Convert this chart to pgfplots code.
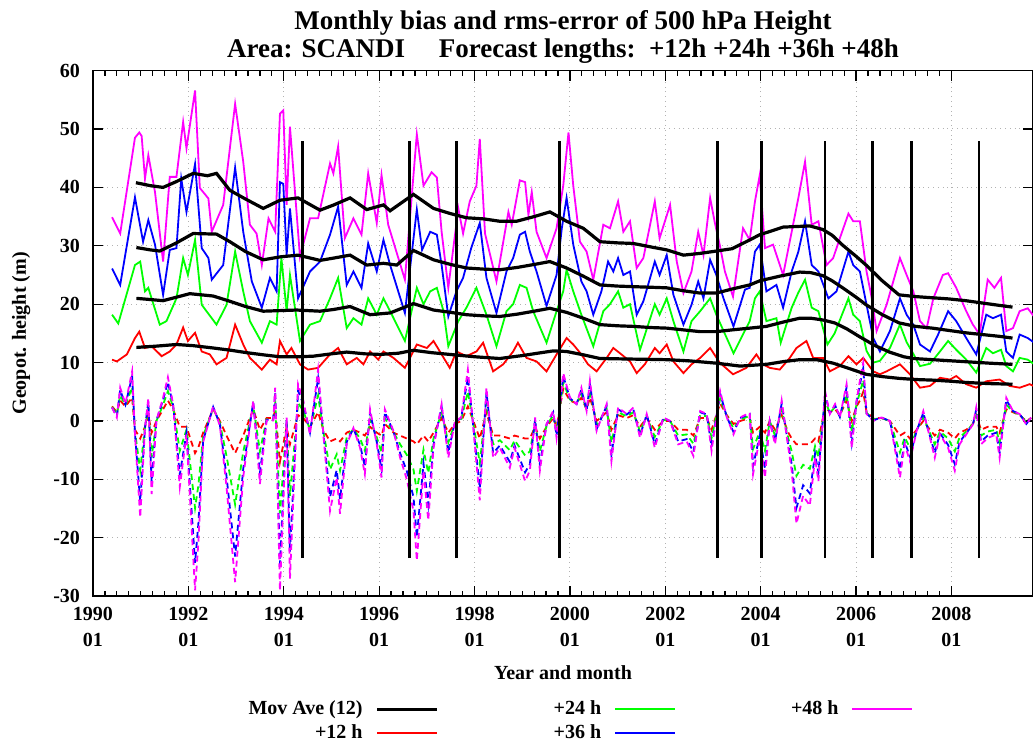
\documentclass[border=0pt]{standalone}
\usepackage{fontspec}
\setmainfont{Liberation Serif}
\usepackage{pgfplots}
\usepackage{pgfplotstable}
\pgfplotsset{compat=1.18}
\definecolor{cR}{RGB}{255,0,0}
\definecolor{cG}{RGB}{0,255,0}
\definecolor{cB}{RGB}{0,0,255}
\definecolor{cM}{RGB}{255,0,255}

% t = years since 1990-01
\pgfplotstableread{
t v
0.90 40.8
1.20 40.3
1.47 40.0
1.75 41.0
2.10 42.4
2.40 42.0
2.59 42.4
2.87 39.5
3.20 38.0
3.57 36.4
3.92 37.8
4.30 38.2
4.76 36.1
5.05 37.0
5.39 38.2
5.74 36.2
6.09 37.0
6.23 36.0
6.72 38.8
7.14 36.4
7.50 35.5
7.83 34.8
8.20 34.6
8.53 34.2
8.88 34.2
9.25 35.0
9.58 35.8
9.93 34.2
10.28 33.0
10.63 30.7
11.00 30.5
11.33 30.4
11.70 29.8
12.03 29.3
12.38 28.4
12.73 28.7
13.07 29.1
13.40 29.5
13.77 31.0
13.98 31.9
14.25 32.6
14.47 33.2
14.75 33.3
15.03 33.4
15.30 32.8
15.50 31.8
15.72 30.1
16.00 28.2
16.21 26.7
16.55 24.0
16.90 21.6
17.25 21.3
17.60 21.1
17.95 20.9
18.30 20.6
18.65 20.2
19.00 19.8
19.28 19.5
}\maA

\pgfplotstableread{
t v
0.91 29.7
1.20 29.3
1.40 29.1
1.75 30.5
2.10 32.1
2.59 32.0
2.87 30.7
3.20 29.0
3.57 27.6
3.92 28.1
4.30 28.4
4.76 27.5
5.05 27.9
5.39 28.4
5.74 26.7
6.09 27.0
6.37 26.7
6.72 29.2
7.14 27.6
7.50 26.8
7.83 26.2
8.20 26.0
8.53 25.9
8.90 26.3
9.25 26.8
9.58 27.3
9.93 26.2
10.28 24.8
10.63 23.3
11.00 23.1
11.33 23.0
11.70 22.9
12.03 22.8
12.38 22.3
12.73 21.9
13.07 21.9
13.40 22.6
13.77 23.3
13.98 24.0
14.40 24.8
14.82 25.5
15.05 25.4
15.30 24.9
15.50 24.0
15.72 22.8
16.00 21.2
16.21 19.9
16.55 18.2
16.90 16.8
17.25 16.2
17.60 15.9
17.95 15.5
18.30 15.1
18.65 14.8
19.00 14.5
19.28 14.2
}\maB

\pgfplotstableread{
t v
0.91 21.0
1.20 20.8
1.47 20.6
1.75 21.2
2.03 21.8
2.52 21.4
2.87 20.5
3.20 19.6
3.57 18.8
4.27 19.0
4.76 18.8
5.05 19.1
5.39 19.6
5.81 18.2
6.23 18.5
6.72 20.1
7.14 19.0
7.50 18.6
7.83 18.2
8.20 18.0
8.53 17.9
8.90 18.3
9.25 18.8
9.58 19.3
9.93 18.6
10.28 17.6
10.63 16.5
11.00 16.3
11.33 16.2
11.70 16.0
12.03 15.9
12.38 15.6
12.73 15.3
13.07 15.3
13.40 15.6
13.77 15.9
14.12 16.2
14.50 17.0
14.82 17.6
15.05 17.6
15.30 17.3
15.55 16.8
15.80 15.8
16.08 14.4
16.40 12.9
16.70 11.8
17.00 11.0
17.20 10.7
17.60 10.5
18.00 10.3
18.40 10.1
18.80 9.9
19.28 9.7
}\maC

\pgfplotstableread{
t v
0.91 12.6
1.30 12.8
1.75 13.1
2.10 12.9
2.52 12.5
2.90 12.1
3.22 11.7
3.60 11.3
3.92 11.0
4.30 11.0
4.62 11.1
5.00 11.5
5.32 11.8
5.70 11.5
6.02 11.4
6.40 11.6
6.72 12.1
7.10 11.7
7.48 11.4
8.00 11.0
8.53 10.7
9.00 11.2
9.40 11.7
9.65 12.0
9.93 11.9
10.30 11.3
10.63 10.7
11.30 10.6
12.03 10.5
12.50 10.3
13.07 9.9
13.57 9.4
14.12 9.7
14.50 10.2
14.82 10.5
15.17 10.5
15.52 9.9
15.85 9.0
16.21 8.0
16.55 7.6
16.90 7.3
17.25 7.1
17.60 7.0
18.00 6.8
18.30 6.6
18.80 6.4
19.28 6.3
}\maD

\pgfplotstableread{
t v
0.40 34.9
0.57 32.1
0.88 48.5
0.97 49.4
1.02 48.8
1.09 41.5
1.16 45.5
1.30 39.2
1.47 27.3
1.61 41.8
1.75 41.8
1.89 51.2
1.96 46.7
2.14 56.6
2.24 39.9
2.42 38.1
2.49 32.4
2.73 37.0
2.98 54.3
3.15 44.4
3.29 33.6
3.43 32.1
3.54 26.7
3.68 34.7
3.82 32.4
3.92 52.6
3.99 53.2
4.06 37.0
4.13 50.4
4.34 28.1
4.55 34.7
4.72 34.7
4.97 44.1
5.04 42.4
5.14 47.0
5.28 31.3
5.46 34.7
5.63 31.9
5.77 42.4
5.95 33.9
6.05 42.1
6.19 33.6
6.54 24.2
6.79 49.1
6.93 40.3
7.10 42.6
7.21 41.7
7.31 32.4
7.45 22.8
7.66 36.4
7.76 32.1
7.90 37.6
8.04 40.3
8.11 48.3
8.22 32.1
8.46 23.9
8.71 35.8
8.78 33.6
8.95 41.2
9.06 40.9
9.13 35.3
9.20 39.2
9.30 32.4
9.51 27.9
9.72 33.0
9.86 40.3
9.97 49.4
10.07 40.3
10.21 30.7
10.35 29.0
10.49 24.2
10.70 33.6
10.84 33.0
11.01 37.6
11.12 32.4
11.26 34.2
11.40 26.2
11.54 27.9
11.78 37.6
11.88 31.3
12.10 37.0
12.24 27.3
12.38 21.9
12.55 25.6
12.69 32.4
12.80 28.4
12.94 38.2
13.04 33.9
13.14 30.2
13.25 25.6
13.42 21.3
13.63 33.0
13.77 31.0
13.88 37.6
13.98 42.1
14.09 29.6
14.26 30.2
14.47 25.0
14.65 32.4
14.79 38.2
14.93 44.4
15.07 33.6
15.21 34.2
15.38 26.7
15.52 27.9
15.66 31.3
15.84 35.5
15.94 34.2
16.08 34.2
16.22 25.6
16.33 21.0
16.43 15.4
16.64 19.9
16.92 27.9
17.06 25.0
17.20 22.2
17.34 17.1
17.48 15.9
17.62 21.0
17.82 25.0
17.93 25.3
18.10 22.8
18.31 18.8
18.45 16.5
18.59 14.8
18.76 24.2
18.90 22.8
19.04 24.5
19.15 15.4
19.29 15.9
19.43 18.8
19.60 19.3
19.72 18.0
}\rmsM

\pgfplotstableread{
t v
0.40 26.1
0.57 23.3
0.88 38.3
1.05 30.7
1.16 34.4
1.30 30.2
1.47 21.6
1.61 29.3
1.75 29.6
1.85 41.5
1.96 35.8
2.14 44.0
2.28 29.6
2.42 27.9
2.49 24.2
2.73 26.7
2.98 43.4
3.15 32.4
3.33 23.9
3.54 19.4
3.71 24.5
3.85 22.2
3.92 40.9
3.99 40.6
4.06 28.4
4.13 36.4
4.30 21.0
4.55 25.6
4.76 27.3
4.97 31.9
5.14 36.7
5.32 23.3
5.46 25.6
5.63 22.8
5.77 30.4
5.95 25.6
6.09 31.0
6.23 26.7
6.54 18.5
6.79 36.2
6.90 29.3
7.07 32.4
7.21 31.9
7.31 26.7
7.45 17.9
7.62 22.2
7.76 24.5
7.93 29.6
8.11 33.9
8.25 24.5
8.46 18.5
8.67 25.6
8.81 27.9
8.95 31.9
9.06 32.4
9.16 29.0
9.30 25.6
9.51 19.7
9.72 25.0
9.83 33.0
9.93 38.2
10.07 30.2
10.24 23.9
10.35 22.2
10.49 18.2
10.66 22.2
10.80 27.3
10.91 25.6
11.01 27.9
11.12 25.0
11.26 25.6
11.40 18.2
11.54 20.5
11.78 27.3
11.88 25.0
12.03 28.4
12.17 21.6
12.38 16.5
12.55 19.9
12.69 23.9
12.80 21.0
12.94 27.6
13.07 25.0
13.22 21.0
13.43 16.2
13.67 22.5
13.77 22.8
13.88 29.0
13.98 30.2
14.12 22.2
14.33 23.3
14.47 19.4
14.65 25.6
14.79 29.0
14.93 34.2
15.07 26.7
15.21 25.6
15.42 21.0
15.59 22.2
15.84 29.0
15.94 26.7
16.08 25.6
16.22 19.9
16.36 14.2
16.50 11.9
16.71 15.4
16.92 21.0
17.06 18.2
17.20 16.5
17.34 13.1
17.55 11.9
17.72 14.8
17.93 18.8
18.10 17.1
18.31 14.2
18.52 11.4
18.73 18.2
18.87 17.6
19.04 18.2
19.15 11.9
19.29 10.8
19.43 14.8
19.60 14.2
19.72 13.5
}\rmsB

\pgfplotstableread{
t v
0.40 18.2
0.53 16.7
0.88 26.7
0.99 27.3
1.09 22.2
1.16 22.8
1.40 16.5
1.54 17.1
1.75 21.0
1.89 27.9
1.99 25.0
2.14 31.0
2.28 19.9
2.38 18.8
2.59 16.5
2.80 19.9
2.98 29.0
3.15 22.2
3.29 17.1
3.54 13.4
3.71 17.1
3.85 16.5
3.95 27.9
4.06 18.8
4.13 25.0
4.34 13.7
4.55 16.5
4.76 17.1
4.97 21.0
5.14 24.5
5.32 15.9
5.46 17.6
5.63 16.5
5.77 21.0
5.95 18.2
6.09 21.0
6.23 18.8
6.54 13.7
6.79 22.8
6.93 20.0
7.07 22.2
7.21 22.8
7.35 18.8
7.45 12.8
7.66 17.1
7.83 19.4
8.04 22.8
8.25 18.2
8.46 12.8
8.67 18.8
8.81 20.0
8.95 23.3
9.09 22.8
9.23 18.8
9.51 13.4
9.72 18.8
9.86 22.2
9.93 25.9
10.07 22.2
10.24 18.2
10.49 12.8
10.70 18.8
10.84 20.0
11.01 22.2
11.12 19.4
11.26 20.0
11.47 12.2
11.78 20.0
11.88 18.2
12.03 21.0
12.17 17.1
12.38 11.9
12.55 17.1
12.73 18.8
12.94 21.0
13.07 18.2
13.43 11.6
13.77 17.1
13.88 21.0
13.98 22.2
14.12 17.1
14.33 17.6
14.42 13.4
14.65 19.4
14.79 22.0
14.93 24.2
15.07 19.4
15.21 18.8
15.40 13.1
15.55 15.0
15.84 21.0
15.94 18.2
16.08 17.1
16.22 12.0
16.36 10.0
16.50 10.3
16.71 12.5
16.92 16.5
17.06 13.5
17.20 11.5
17.34 9.4
17.55 9.8
17.72 11.5
17.93 13.7
18.10 12.2
18.31 10.5
18.52 8.3
18.73 12.5
18.87 11.6
19.04 12.2
19.15 9.4
19.29 8.5
19.43 10.8
19.60 10.5
19.72 9.8
}\rmsG

\pgfplotstableread{
t v
0.40 10.5
0.50 10.2
0.71 11.4
0.88 14.2
0.97 15.3
1.09 12.5
1.23 12.8
1.44 11.1
1.61 11.9
1.75 13.1
1.89 16.0
1.99 13.7
2.14 15.1
2.28 11.9
2.45 11.4
2.59 9.7
2.80 10.8
2.98 16.5
3.15 13.1
3.29 10.8
3.54 8.8
3.71 10.5
3.85 9.7
3.92 13.7
4.06 11.4
4.16 12.5
4.34 9.7
4.51 8.8
4.72 9.1
4.97 11.4
5.14 12.5
5.32 9.7
5.53 10.8
5.67 9.7
5.81 11.9
5.98 10.5
6.09 11.9
6.30 10.8
6.54 9.1
6.79 13.1
7.00 12.5
7.14 13.7
7.31 11.4
7.48 9.1
7.62 11.9
7.83 11.1
8.04 11.9
8.18 13.4
8.39 8.5
8.60 9.7
8.81 11.9
8.91 13.4
9.09 10.8
9.30 10.2
9.51 8.5
9.72 11.4
9.93 14.2
10.07 13.1
10.24 11.4
10.38 9.7
10.56 8.5
10.77 10.8
10.91 12.5
11.08 11.4
11.26 10.2
11.40 8.2
11.57 9.7
11.78 12.5
11.88 11.6
12.03 13.1
12.17 10.2
12.38 8.2
12.55 9.7
12.73 10.8
12.94 12.5
13.14 10.0
13.42 8.0
13.70 9.1
13.91 11.4
14.05 9.7
14.19 9.1
14.40 8.8
14.61 10.8
14.75 12.5
14.96 13.7
15.10 10.8
15.31 10.8
15.45 8.5
15.66 9.4
15.84 11.1
16.01 9.7
16.15 10.8
16.36 8.5
16.50 8.0
16.64 8.5
16.92 9.7
17.13 8.0
17.34 5.7
17.55 6.0
17.76 7.4
17.97 7.1
18.10 7.7
18.31 6.3
18.52 5.7
18.73 6.8
19.01 7.1
19.22 6.0
19.43 5.7
19.64 6.3
19.72 6.0
}\rmsR

\pgfplotstableread{
t b12 b24 b36 b48
0.40 2.5 2.4 2.3 2.3
0.50 1.5 1.1 0.8 0.6
0.57 3.5 4.4 5.3 5.7
0.68 2.5 2.7 2.8 2.9
0.82 4.0 5.8 7.6 8.5
0.88 -1.5 -1.8 -2.1 -2.3
0.99 -3.0 -8.4 -13.8 -16.5
1.09 -1.0 -1.1 -1.2 -1.2
1.16 1.0 2.2 3.3 3.9
1.23 -2.0 -6.2 -10.4 -12.5
1.33 0.0 0.0 0.1 0.1
1.47 2.0 2.8 3.6 4.0
1.57 3.5 5.1 6.7 7.5
1.68 2.0 2.4 2.7 2.9
1.82 -1.0 -5.1 -9.2 -11.3
1.96 -1.0 -1.5 -2.0 -2.3
2.14 -5.5 -14.9 -24.3 -29.0
2.21 -4.5 -11.0 -17.5 -20.7
2.31 -2.0 -2.6 -3.3 -3.6
2.52 2.0 2.2 2.4 2.5
2.66 0.0 -0.3 -0.6 -0.8
2.80 -2.5 -6.0 -9.5 -11.3
2.98 -5.5 -14.3 -23.2 -27.6
3.15 -2.5 -5.3 -8.2 -9.6
3.36 2.0 2.6 3.2 3.5
3.50 -1.5 -5.2 -8.9 -10.8
3.64 0.5 0.3 0.2 0.1
3.78 0.5 0.3 0.2 0.1
3.82 2.0 3.5 5.0 5.7
3.92 -7.0 -15.8 -24.6 -29.0
4.06 -1.0 -0.4 0.3 0.6
4.13 -4.0 -12.8 -22.4 -27.0
4.30 1.0 3.1 5.2 6.3
4.41 0.5 1.7 2.9 3.5
4.55 -1.0 -1.5 -2.0 -2.3
4.72 1.5 4.4 7.3 8.8
4.83 -1.5 -1.8 -2.1 -2.3
4.97 -3.5 -8.3 -13.0 -15.4
5.11 -3.0 -5.7 -8.4 -9.7
5.18 -3.5 -8.5 -13.4 -15.9
5.32 -2.0 -2.8 -3.6 -4.0
5.46 -1.5 -1.4 -1.3 -1.2
5.60 -2.0 -3.0 -4.1 -4.6
5.70 -2.5 -5.1 -7.8 -9.1
5.81 -1.0 0.2 1.4 2.0
5.95 -2.0 -2.8 -3.6 -4.0
6.05 -2.5 -5.4 -8.3 -9.7
6.12 -0.5 0.5 1.5 2.0
6.30 -2.0 -1.9 -1.8 -1.7
6.44 -2.5 -4.0 -5.5 -6.3
6.58 -3.0 -5.8 -8.6 -10.0
6.72 -3.5 -8.3 -13.0 -15.4
6.79 -4.0 -12.0 -19.9 -23.9
6.93 -2.5 -4.9 -7.3 -8.5
7.03 -3.5 -8.9 -14.3 -17.0
7.14 -2.0 -3.0 -4.1 -4.6
7.31 0.5 1.5 2.4 2.9
7.45 -2.0 -3.7 -5.4 -6.3
7.59 -0.5 -0.3 -0.1 0.0
7.72 0.0 0.2 0.5 0.6
7.86 2.5 5.0 7.5 8.8
7.93 1.0 1.8 2.5 2.9
8.11 -3.0 -7.2 -11.5 -13.6
8.25 1.5 3.2 4.9 5.7
8.39 -2.5 -4.0 -5.5 -6.3
8.53 -2.5 -3.3 -4.2 -4.6
8.74 -3.0 -5.0 -7.0 -8.0
8.84 -2.5 -3.3 -4.2 -4.6
9.06 -3.0 -5.9 -8.8 -10.3
9.16 -3.0 -5.2 -7.4 -8.5
9.27 -1.0 -0.4 0.3 0.6
9.37 -3.0 -5.2 -7.4 -8.5
9.51 -1.0 -0.8 -0.6 -0.5
9.65 0.5 1.0 1.5 1.7
9.72 -1.0 -1.8 -2.5 -2.9
9.86 5.5 6.6 7.7 8.2
10.00 3.5 3.7 3.9 4.0
10.14 3.0 3.0 2.9 2.9
10.24 4.0 4.7 5.4 5.7
10.35 2.0 1.9 1.8 1.7
10.42 4.0 5.2 6.3 6.9
10.56 0.0 -0.7 -1.4 -1.7
10.77 1.5 2.1 2.6 2.9
10.87 -1.5 -3.7 -5.8 -6.9
11.01 1.0 1.5 2.0 2.3
11.19 0.5 0.8 1.1 1.2
11.33 1.0 1.5 2.0 2.3
11.47 -1.0 -1.8 -2.5 -2.9
11.61 0.5 0.8 1.1 1.2
11.78 -1.5 -2.7 -4.0 -4.6
11.96 0.0 0.2 0.5 0.6
12.10 0.0 0.0 0.0 0.0
12.27 -1.5 -2.5 -3.5 -4.0
12.45 -1.5 -2.3 -3.1 -3.5
12.59 -2.5 -3.9 -5.3 -6.0
12.73 0.5 1.0 1.5 1.7
12.87 0.5 0.8 1.1 1.2
12.97 -1.5 -2.9 -4.4 -5.1
13.15 3.0 3.8 4.7 5.1
13.29 1.0 0.8 0.7 0.6
13.43 -0.5 -1.2 -1.9 -2.3
13.57 0.0 0.2 0.5 0.6
13.77 0.5 0.9 1.2 1.4
13.84 -2.0 -4.8 -7.7 -9.1
13.98 -1.0 -1.8 -2.5 -2.9
14.09 -2.0 -5.1 -8.2 -9.7
14.19 0.0 0.0 0.0 0.0
14.30 -1.5 -2.5 -3.5 -4.0
14.44 1.0 2.0 3.0 3.5
14.58 -2.0 -3.0 -4.1 -4.6
14.65 -3.0 -5.2 -7.4 -8.5
14.75 -4.0 -9.4 -14.9 -17.6
14.89 -4.0 -7.5 -11.0 -12.8
15.03 -4.0 -8.2 -12.4 -14.5
15.14 -3.0 -4.3 -5.6 -6.3
15.21 -3.5 -6.2 -8.9 -10.3
15.35 2.5 3.5 4.6 5.1
15.45 1.5 1.4 1.3 1.2
15.56 2.0 2.4 2.7 2.9
15.66 1.0 0.8 0.7 0.6
15.80 3.5 4.6 5.7 6.3
15.91 0.0 -1.8 -3.7 -4.6
16.01 2.5 2.9 3.3 3.5
16.08 3.5 4.9 6.2 6.9
16.15 5.0 7.0 9.0 10.0
16.22 1.5 1.4 1.3 1.2
16.36 0.5 0.3 0.1 0.0
16.53 0.5 0.5 0.6 0.6
16.71 0.0 0.0 0.0 0.0
16.92 -2.5 -5.4 -8.3 -9.7
17.02 -2.0 -2.8 -3.6 -4.0
17.13 -3.0 -4.6 -6.1 -6.9
17.27 -1.5 -1.6 -1.7 -1.7
17.41 0.0 0.7 1.4 1.7
17.55 -1.5 -2.1 -2.6 -2.9
17.65 -2.5 -4.0 -5.5 -6.3
17.76 -1.5 -1.8 -2.1 -2.3
17.93 -2.0 -3.0 -4.1 -4.6
18.07 -3.0 -5.2 -7.4 -8.5
18.17 -2.0 -2.8 -3.6 -4.0
18.31 -1.5 -1.8 -2.1 -2.3
18.45 -0.5 -0.5 -0.6 -0.6
18.52 1.0 1.5 2.0 2.3
18.62 -1.5 -2.5 -3.5 -4.0
18.76 -1.0 -1.8 -2.5 -2.9
18.94 -1.0 -1.5 -2.0 -2.3
19.01 -2.0 -3.7 -5.4 -6.3
19.15 2.0 2.8 3.6 4.0
19.29 1.5 1.6 1.7 1.7
19.43 1.0 1.1 1.2 1.2
19.57 0.0 -0.2 -0.5 -0.6
19.67 0.5 0.5 0.6 0.6
}\bias

\begin{document}
\begin{tikzpicture}
\begin{axis}[
  name=ax,
  scale only axis, width=470pt, height=262.8pt,
  xmin=0, xmax=19.71, ymin=-30, ymax=60,
  xtick={0,2,4,6,8,10,12,14,16,18},
  xticklabels={{1990\\01},{1992\\01},{1994\\01},{1996\\01},{1998\\01},{2000\\01},{2002\\01},{2004\\01},{2006\\01},{2008\\01}},
  minor x tick num=7,
  ytick={-30,-20,-10,0,10,20,30,40,50,60},
  yticklabels={-30,-20,-10,0,10,20,30,40,50,60},
  tick align=inside, tick pos=both,
  major tick length=5pt, minor tick length=2.5pt,
  tick style={black, line width=0.6pt},
  grid=major, major grid style={dotted, gray!60, line width=0.5pt},
  axis line style={line width=0.9pt},
  tick label style={font=\fontsize{10}{13}\selectfont\bfseries},
  xticklabel style={align=center, yshift=-2pt},
  yticklabel style={xshift=-3pt},
  xlabel={Year and month}, ylabel={Geopot. height (m)},
  label style={font=\fontsize{10}{12}\selectfont\bfseries},
  xlabel style={at={(axis description cs:0.5,-0.158)}, anchor=base},
  ylabel style={at={(axis description cs:-0.0713,0.5)}, anchor=base},
  title={Monthly bias and rms-error of 500 hPa Height\\Area: SCANDI\quad\ Forecast lengths:\ \ +12h +24h +36h +48h},
  title style={at={(axis description cs:0.5,1)}, anchor=south, yshift=-6pt, align=center, font=\fontsize{13.5}{14}\selectfont\bfseries},
  legend style={draw=none, fill=none, at={(axis description cs:0.5175,-0.238)}, anchor=center,
    font=\fontsize{10}{12}\selectfont\bfseries,
    /tikz/every odd column/.append style={column sep=5pt},
    /tikz/every even column/.append style={column sep=56pt},
    row sep=0pt, nodes={inner sep=1.5pt, text height=7pt, text depth=2pt}},
  legend cell align=right,
  legend plot pos=right, transpose legend, legend columns=2,
  legend image code/.code={\draw[#1] (0pt,0pt) -- (30pt,0pt);},
]
\addlegendimage{black, line width=1.6pt}
\addlegendentry{Mov Ave (12)}
\addlegendimage{cR, line width=0.9pt}
\addlegendentry{+12 h}
\addlegendimage{cG, line width=0.9pt}
\addlegendentry{+24 h}
\addlegendimage{cB, line width=0.9pt}
\addlegendentry{+36 h}
\addlegendimage{cM, line width=0.9pt}
\addlegendentry{+48 h}

\addplot[cR, line width=0.9pt, forget plot] table[x=t, y=v] {\rmsR};
\addplot[cG, line width=0.9pt, forget plot] table[x=t, y=v] {\rmsG};
\addplot[cB, line width=0.9pt, forget plot] table[x=t, y=v] {\rmsB};
\addplot[cM, line width=0.9pt, forget plot] table[x=t, y=v] {\rmsM};

\addplot[cR, line width=0.9pt, dash pattern=on 3pt off 2pt, forget plot] table[x=t, y=b12] {\bias};
\addplot[cG, line width=0.9pt, dash pattern=on 3pt off 2pt, forget plot] table[x=t, y=b24] {\bias};
\addplot[cB, line width=0.9pt, dash pattern=on 3pt off 2pt, forget plot] table[x=t, y=b36] {\bias};
\addplot[cM, line width=0.9pt, dash pattern=on 3pt off 2pt, forget plot] table[x=t, y=b48] {\bias};

\addplot[black, line width=1.6pt, forget plot] table[x=t, y=v] {\maA};
\addplot[black, line width=1.6pt, forget plot] table[x=t, y=v] {\maB};
\addplot[black, line width=1.6pt, forget plot] table[x=t, y=v] {\maC};
\addplot[black, line width=1.6pt, forget plot] table[x=t, y=v] {\maD};

\addplot[black, line width=1.3pt, forget plot] coordinates {(4.39,-23.5) (4.39,48)};
\addplot[black, line width=1.3pt, forget plot] coordinates {(6.64,-23.5) (6.64,48)};
\addplot[black, line width=1.3pt, forget plot] coordinates {(7.62,-23.5) (7.62,48)};
\addplot[black, line width=1.3pt, forget plot] coordinates {(9.78,-23.5) (9.78,48)};
\addplot[black, line width=1.3pt, forget plot] coordinates {(13.10,-23.5) (13.10,48)};
\addplot[black, line width=1.3pt, forget plot] coordinates {(14.02,-23.5) (14.02,48)};
\addplot[black, line width=1.3pt, forget plot] coordinates {(15.35,-23.5) (15.35,48)};
\addplot[black, line width=1.3pt, forget plot] coordinates {(16.34,-23.5) (16.34,48)};
\addplot[black, line width=1.3pt, forget plot] coordinates {(17.16,-23.5) (17.16,48)};
\addplot[black, line width=1.3pt, forget plot] coordinates {(18.58,-23.5) (18.58,48)};
\end{axis}
\pgfresetboundingbox
\useasboundingbox ([xshift=-46.5pt,yshift=-72pt]ax.south west) rectangle ([yshift=35.3pt]ax.north east);
\end{tikzpicture}
\end{document}
